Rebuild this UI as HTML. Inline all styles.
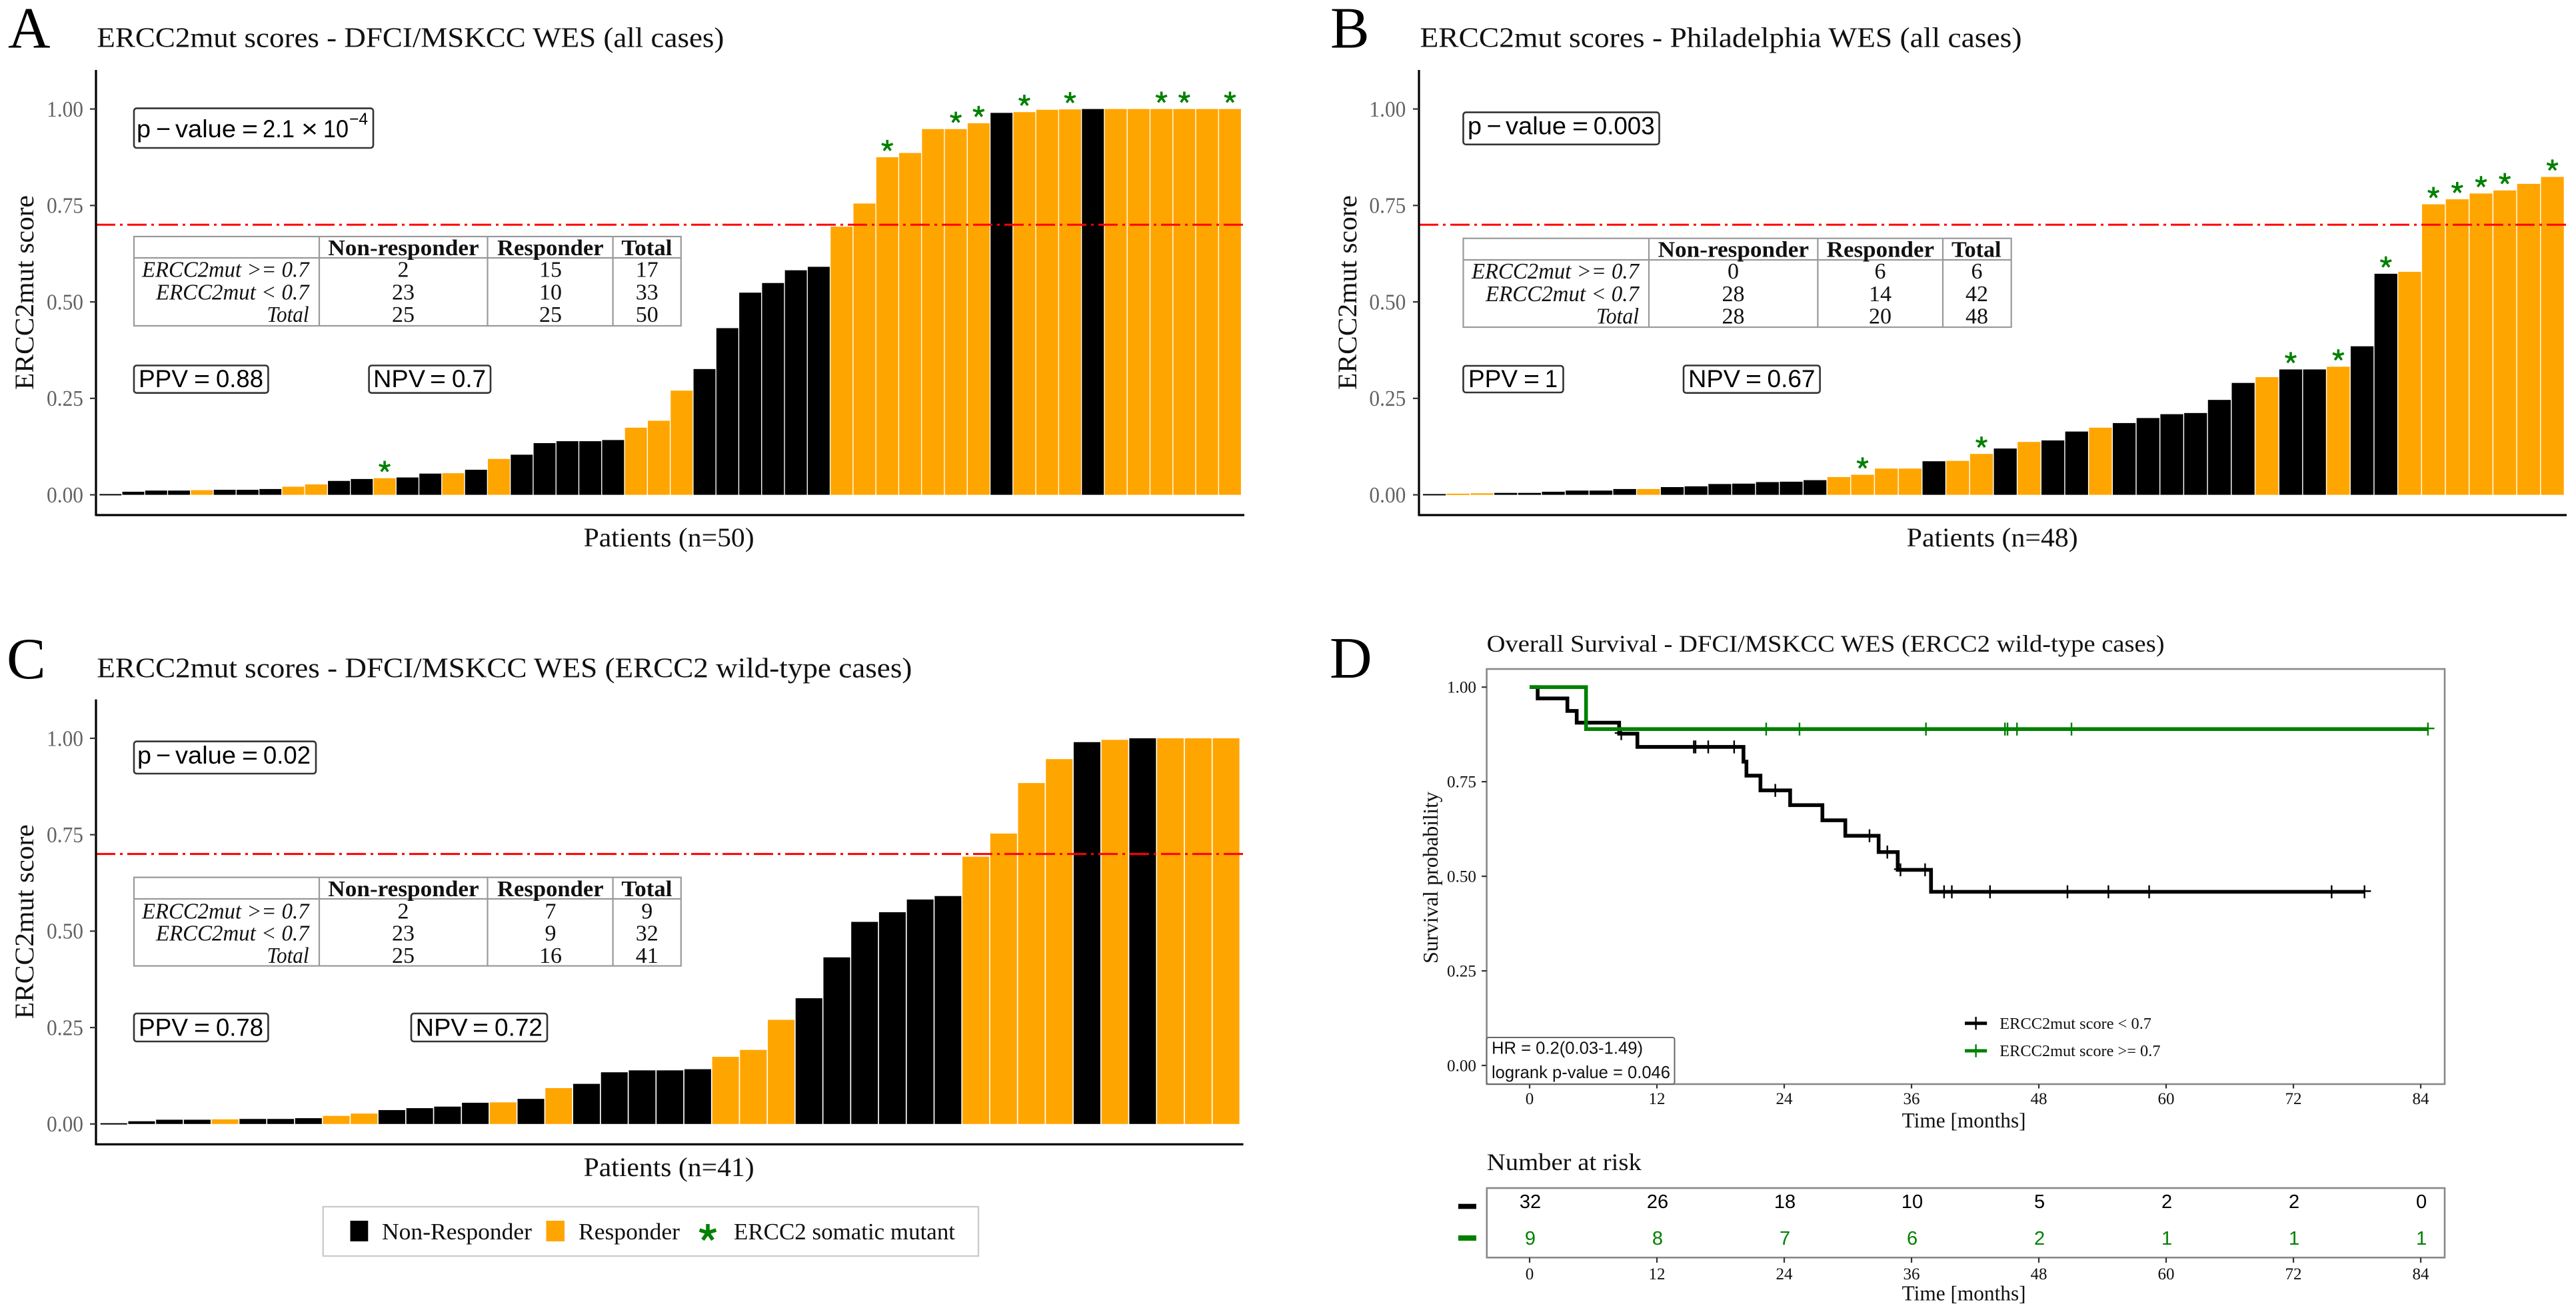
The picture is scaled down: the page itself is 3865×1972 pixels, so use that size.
<!DOCTYPE html>
<html lang="en">
<head>
<meta charset="utf-8">
<title>ERCC2mut score figure</title>
<style>
html,body{margin:0;padding:0;background:#fff;}
svg{display:block;}
text{font-family:"Liberation Serif",serif;fill:#111;}
.letter{font-size:88px;fill:#000;}
.title{font-size:42px;}
.axt{font-size:40px;}
.sans{font-family:"Liberation Sans",sans-serif;font-size:37px;fill:#000;}
.sup{font-family:"Liberation Sans",sans-serif;font-size:25px;fill:#000;}
.box{fill:#fff;stroke:#333;stroke-width:2.6;}
.grid{fill:none;stroke:#999;stroke-width:2.2;}
.hd{font-size:34px;font-weight:bold;text-anchor:start;}
.rl{font-size:34px;font-style:italic;}
.cell{font-size:34px;text-anchor:middle;}
.leg{font-size:35px;}
.dt{font-size:36px;}
.dax{font-size:32px;}
.dleg{font-size:24px;}
.hr{font-family:"Liberation Sans",sans-serif;font-size:26px;fill:#111;}
.frame{fill:none;stroke:#888;stroke-width:2.6;}
</style>
</head>
<body>
<svg id="fig" xmlns="http://www.w3.org/2000/svg" width="3865" height="1972" viewBox="0 0 3865 1972">
<rect width="3865" height="1972" fill="#fff"/>

<text class="letter" x="12" y="71.5">A</text>
<text class="letter" x="1996" y="71.5">B</text>
<text class="letter" x="10" y="1018">C</text>
<text class="letter" x="1995" y="1017">D</text>

<text class="title" x="145.4" y="70.5" textLength="941" lengthAdjust="spacingAndGlyphs">ERCC2mut scores - DFCI/MSKCC WES (all cases)</text>
<text class="title" x="2130.5" y="70.5" textLength="903" lengthAdjust="spacingAndGlyphs">ERCC2mut scores - Philadelphia WES (all cases)</text>
<text class="title" x="145.4" y="1016.4" textLength="1223" lengthAdjust="spacingAndGlyphs">ERCC2mut scores - DFCI/MSKCC WES (ERCC2 wild-type cases)</text>

<text class="axt" transform="translate(50,585) rotate(-90)" textLength="292" lengthAdjust="spacingAndGlyphs">ERCC2mut score</text>
<text class="axt" transform="translate(2034.8,585) rotate(-90)" textLength="292" lengthAdjust="spacingAndGlyphs">ERCC2mut score</text>
<text class="axt" transform="translate(50,1529.3) rotate(-90)" textLength="292" lengthAdjust="spacingAndGlyphs">ERCC2mut score</text>

<text class="axt" x="875.6" y="820" textLength="256" lengthAdjust="spacingAndGlyphs">Patients (n=50)</text>
<text class="axt" x="2860.7" y="820" textLength="257" lengthAdjust="spacingAndGlyphs">Patients (n=48)</text>
<text class="axt" x="875.6" y="1765" textLength="256" lengthAdjust="spacingAndGlyphs">Patients (n=41)</text>

<g id="plot-a"></g>
<g id="plot-b"></g>
<g id="plot-c"></g>

<!-- Panel A annotations -->
<g>
<rect class="box" x="201" y="162.6" width="359" height="59.4" rx="4"/>
<text class="sans" x="205" y="206" textLength="21" lengthAdjust="spacingAndGlyphs">p</text>
<text class="sans" x="234" y="206" textLength="22" lengthAdjust="spacingAndGlyphs">−</text>
<text class="sans" x="263" y="206" textLength="91" lengthAdjust="spacingAndGlyphs">value</text>
<text class="sans" x="363" y="206" textLength="24" lengthAdjust="spacingAndGlyphs">=</text>
<text class="sans" x="394" y="206" textLength="48" lengthAdjust="spacingAndGlyphs">2.1</text>
<text class="sans" x="452" y="206" textLength="25" lengthAdjust="spacingAndGlyphs">×</text>
<text class="sans" x="485" y="206" textLength="38" lengthAdjust="spacingAndGlyphs">10</text>
<text class="sup" x="524" y="187" textLength="28" lengthAdjust="spacingAndGlyphs">−4</text>
</g>
<g>
<rect class="box" x="201" y="548.5" width="201.4" height="41.2" rx="4"/>
<text class="sans" x="208" y="581" textLength="74" lengthAdjust="spacingAndGlyphs">PPV</text>
<text class="sans" x="291" y="581" textLength="24" lengthAdjust="spacingAndGlyphs">=</text>
<text class="sans" x="324" y="581" textLength="71" lengthAdjust="spacingAndGlyphs">0.88</text>
</g>
<g>
<rect class="box" x="553.6" y="548.5" width="182.4" height="41.2" rx="4"/>
<text class="sans" x="560" y="581" textLength="78" lengthAdjust="spacingAndGlyphs">NPV</text>
<text class="sans" x="645" y="581" textLength="24" lengthAdjust="spacingAndGlyphs">=</text>
<text class="sans" x="678" y="581" textLength="51" lengthAdjust="spacingAndGlyphs">0.7</text>
</g>
<g>
<rect class="grid" x="201" y="355" width="820.8" height="134"/>
<path class="grid" d="M201 387H1021.8M479 355V489M731.5 355V489M919.6 355V489"/>
<text class="hd" x="492.3" y="383" textLength="226.4" lengthAdjust="spacingAndGlyphs">Non-responder</text>
<text class="hd" x="746" y="383" textLength="159.6" lengthAdjust="spacingAndGlyphs">Responder</text>
<text class="hd" x="932.4" y="383" textLength="76" lengthAdjust="spacingAndGlyphs">Total</text>
<text class="rl" x="213" y="415.7" textLength="250.6" lengthAdjust="spacingAndGlyphs">ERCC2mut &gt;= 0.7</text>
<text class="rl" x="234" y="449.3" textLength="229.6" lengthAdjust="spacingAndGlyphs">ERCC2mut &lt; 0.7</text>
<text class="rl" x="400.5" y="483" textLength="63" lengthAdjust="spacingAndGlyphs">Total</text>
<g>
<text class="cell" x="605" y="415.7">2</text><text class="cell" x="826" y="415.7">15</text><text class="cell" x="970.7" y="415.7">17</text>
<text class="cell" x="605" y="449.3">23</text><text class="cell" x="826" y="449.3">10</text><text class="cell" x="970.7" y="449.3">33</text>
<text class="cell" x="605" y="483">25</text><text class="cell" x="826" y="483">25</text><text class="cell" x="970.7" y="483">50</text>
</g>
</g>

<!-- Panel B annotations -->
<g>
<rect class="box" x="2195.5" y="168.6" width="294" height="48.2" rx="4"/>
<text class="sans" x="2202" y="201.6" textLength="21" lengthAdjust="spacingAndGlyphs">p</text>
<text class="sans" x="2230.5" y="201.6" textLength="22" lengthAdjust="spacingAndGlyphs">−</text>
<text class="sans" x="2259" y="201.6" textLength="91" lengthAdjust="spacingAndGlyphs">value</text>
<text class="sans" x="2359" y="201.6" textLength="24" lengthAdjust="spacingAndGlyphs">=</text>
<text class="sans" x="2390.7" y="201.6" textLength="92" lengthAdjust="spacingAndGlyphs">0.003</text>
</g>
<g>
<rect class="box" x="2195.5" y="549" width="150" height="40" rx="4"/>
<text class="sans" x="2203" y="581" textLength="74" lengthAdjust="spacingAndGlyphs">PPV</text>
<text class="sans" x="2286" y="581" textLength="24" lengthAdjust="spacingAndGlyphs">=</text>
<text class="sans" x="2318" y="581" textLength="19" lengthAdjust="spacingAndGlyphs">1</text>
</g>
<g>
<rect class="box" x="2526" y="548.5" width="204.6" height="41.2" rx="4"/>
<text class="sans" x="2533" y="581" textLength="78" lengthAdjust="spacingAndGlyphs">NPV</text>
<text class="sans" x="2619" y="581" textLength="24" lengthAdjust="spacingAndGlyphs">=</text>
<text class="sans" x="2651.5" y="581" textLength="72" lengthAdjust="spacingAndGlyphs">0.67</text>
</g>
<g>
<rect class="grid" x="2195.5" y="357.7" width="822.2" height="133.3"/>
<path class="grid" d="M2195.5 390H3017.7M2474 357.7V491M2727.4 357.7V491M2915 357.7V491"/>
<text class="hd" x="2487.6" y="385.4" textLength="226.4" lengthAdjust="spacingAndGlyphs">Non-responder</text>
<text class="hd" x="2740.8" y="385.4" textLength="161.2" lengthAdjust="spacingAndGlyphs">Responder</text>
<text class="hd" x="2928" y="385.4" textLength="74.5" lengthAdjust="spacingAndGlyphs">Total</text>
<text class="rl" x="2208" y="418" textLength="251" lengthAdjust="spacingAndGlyphs">ERCC2mut &gt;= 0.7</text>
<text class="rl" x="2229" y="452" textLength="230" lengthAdjust="spacingAndGlyphs">ERCC2mut &lt; 0.7</text>
<text class="rl" x="2395" y="485.6" textLength="64" lengthAdjust="spacingAndGlyphs">Total</text>
<g>
<text class="cell" x="2600.5" y="418">0</text><text class="cell" x="2821" y="418">6</text><text class="cell" x="2966" y="418">6</text>
<text class="cell" x="2600.5" y="452">28</text><text class="cell" x="2821" y="452">14</text><text class="cell" x="2966" y="452">42</text>
<text class="cell" x="2600.5" y="485.6">28</text><text class="cell" x="2821" y="485.6">20</text><text class="cell" x="2966" y="485.6">48</text>
</g>
</g>

<!-- Panel C annotations -->
<g>
<rect class="box" x="201" y="1112.7" width="273" height="48.3" rx="4"/>
<text class="sans" x="206" y="1146" textLength="21" lengthAdjust="spacingAndGlyphs">p</text>
<text class="sans" x="234" y="1146" textLength="22" lengthAdjust="spacingAndGlyphs">−</text>
<text class="sans" x="263" y="1146" textLength="91" lengthAdjust="spacingAndGlyphs">value</text>
<text class="sans" x="363" y="1146" textLength="24" lengthAdjust="spacingAndGlyphs">=</text>
<text class="sans" x="395" y="1146" textLength="71" lengthAdjust="spacingAndGlyphs">0.02</text>
</g>
<g>
<rect class="box" x="201" y="1521" width="201.4" height="42" rx="4"/>
<text class="sans" x="208" y="1554.6" textLength="74" lengthAdjust="spacingAndGlyphs">PPV</text>
<text class="sans" x="291" y="1554.6" textLength="24" lengthAdjust="spacingAndGlyphs">=</text>
<text class="sans" x="324" y="1554.6" textLength="71" lengthAdjust="spacingAndGlyphs">0.78</text>
</g>
<g>
<rect class="box" x="617" y="1521" width="204" height="42" rx="4"/>
<text class="sans" x="623.7" y="1554.6" textLength="78" lengthAdjust="spacingAndGlyphs">NPV</text>
<text class="sans" x="709" y="1554.6" textLength="24" lengthAdjust="spacingAndGlyphs">=</text>
<text class="sans" x="742" y="1554.6" textLength="72" lengthAdjust="spacingAndGlyphs">0.72</text>
</g>
<g>
<rect class="grid" x="201" y="1316.7" width="820.8" height="132.9"/>
<path class="grid" d="M201 1349H1021.8M479 1316.7V1449.6M731.5 1316.7V1449.6M919.6 1316.7V1449.6"/>
<text class="hd" x="492.3" y="1345" textLength="226.4" lengthAdjust="spacingAndGlyphs">Non-responder</text>
<text class="hd" x="746" y="1345" textLength="159.6" lengthAdjust="spacingAndGlyphs">Responder</text>
<text class="hd" x="932.4" y="1345" textLength="76" lengthAdjust="spacingAndGlyphs">Total</text>
<text class="rl" x="213" y="1378.5" textLength="250.6" lengthAdjust="spacingAndGlyphs">ERCC2mut &gt;= 0.7</text>
<text class="rl" x="234" y="1411.7" textLength="229.6" lengthAdjust="spacingAndGlyphs">ERCC2mut &lt; 0.7</text>
<text class="rl" x="400.5" y="1445" textLength="63" lengthAdjust="spacingAndGlyphs">Total</text>
<g>
<text class="cell" x="605" y="1378.5">2</text><text class="cell" x="826" y="1378.5">7</text><text class="cell" x="970.7" y="1378.5">9</text>
<text class="cell" x="605" y="1411.7">23</text><text class="cell" x="826" y="1411.7">9</text><text class="cell" x="970.7" y="1411.7">32</text>
<text class="cell" x="605" y="1445">25</text><text class="cell" x="826" y="1445">16</text><text class="cell" x="970.7" y="1445">41</text>
</g>
</g>

<!-- Shared legend -->
<g>
<rect x="484.7" y="1811" width="983.3" height="74" fill="#fff" stroke="#ccc" stroke-width="2.4"/>
<rect x="525.5" y="1832" width="26.8" height="31" fill="#000"/>
<text class="leg" x="573" y="1860" textLength="225" lengthAdjust="spacingAndGlyphs">Non-Responder</text>
<rect x="819.5" y="1832" width="27.5" height="31" fill="#FFA500"/>
<text class="leg" x="868" y="1860" textLength="152" lengthAdjust="spacingAndGlyphs">Responder</text>
<path d="M1062 1837V1850M1062 1850L1074.4 1846M1062 1850L1069.6 1860.5M1062 1850L1054.4 1860.5M1062 1850L1049.6 1846" fill="none" stroke="#008000" stroke-width="5.5"/>
<text class="leg" x="1101" y="1860" textLength="332" lengthAdjust="spacingAndGlyphs">ERCC2 somatic mutant</text>
</g>

<!-- Panel D static parts -->
<text class="dt" x="2230.6" y="978" textLength="1017" lengthAdjust="spacingAndGlyphs">Overall Survival - DFCI/MSKCC WES (ERCC2 wild-type cases)</text>
<text class="dax" transform="translate(2157,1446) rotate(-90)" textLength="258" lengthAdjust="spacingAndGlyphs">Survival probability</text>
<text class="dax" x="2853.6" y="1692" textLength="186" lengthAdjust="spacingAndGlyphs">Time [months]</text>
<rect class="frame" x="2230.6" y="1004" width="1437.4" height="623"/>
<g id="km"></g>
<g>
<rect x="2230.6" y="1557" width="281.9" height="70" rx="3" fill="#fff" stroke="#666" stroke-width="2"/>
<text class="hr" x="2238" y="1581.7" textLength="227" lengthAdjust="spacingAndGlyphs">HR = 0.2(0.03-1.49)</text>
<text class="hr" x="2238" y="1618" textLength="268" lengthAdjust="spacingAndGlyphs">logrank p-value = 0.046</text>
</g>
<g>
<path d="M2948 1535.7H2981.2" stroke="#000" stroke-width="5"/>
<path d="M2964.6 1526V1545.4" stroke="#000" stroke-width="2.4"/>
<text class="dleg" x="3000.3" y="1543.9" textLength="227.7" lengthAdjust="spacingAndGlyphs">ERCC2mut score &lt; 0.7</text>
<path d="M2948 1577H2981.2" stroke="#008000" stroke-width="5"/>
<path d="M2964.6 1567.3V1586.7" stroke="#008000" stroke-width="2.4"/>
<text class="dleg" x="3000.3" y="1585" textLength="241.2" lengthAdjust="spacingAndGlyphs">ERCC2mut score &gt;= 0.7</text>
</g>

<text class="dt" x="2230.8" y="1756" textLength="232" lengthAdjust="spacingAndGlyphs">Number at risk</text>
<rect class="frame" x="2230.8" y="1783" width="1437.2" height="104.3"/>
<rect x="2188" y="1806.7" width="27" height="7.6" fill="#000"/>
<rect x="2188" y="1854" width="27" height="8" fill="#008000"/>
<g id="risk"></g>
<text class="dax" x="2853.6" y="1951.7" textLength="186" lengthAdjust="spacingAndGlyphs">Time [months]</text>
</svg>

<script>
// Panel A data
const scoresA = [0.002,0.008,0.011,0.011,0.012,0.013,0.013,0.015,0.021,0.027,0.036,0.041,0.043,0.045,0.055,0.056,0.065,0.093,0.104,0.134,0.139,0.139,0.142,0.174,0.192,0.27,0.326,0.432,0.524,0.549,0.582,0.591,0.695,0.755,0.875,0.886,0.948,0.948,0.963,0.99,0.992,0.998,0.999,1,1,1,1,1,1,1];
const responderA = [0,0,0,0,1,0,0,0,1,1,0,0,1,0,0,1,0,1,0,0,0,0,0,1,1,1,0,0,0,0,0,0,1,1,1,1,1,1,1,0,1,1,1,0,1,1,1,1,1,1];
const mutantA = [0,0,0,0,0,0,0,0,0,0,0,0,1,0,0,0,0,0,0,0,0,0,0,0,0,0,0,0,0,0,0,0,0,0,1,0,0,1,1,0,1,0,1,0,0,0,1,1,0,1];

// Panel B data
const scoresB = [0.002,0.003,0.004,0.005,0.005,0.008,0.011,0.011,0.015,0.015,0.02,0.022,0.028,0.029,0.033,0.034,0.038,0.046,0.052,0.068,0.068,0.087,0.088,0.106,0.12,0.137,0.141,0.164,0.174,0.186,0.199,0.209,0.212,0.246,0.29,0.305,0.325,0.325,0.332,0.385,0.573,0.578,0.753,0.766,0.781,0.789,0.806,0.824];
const responderB = [0,1,1,0,0,0,0,0,0,1,0,0,0,0,0,0,0,1,1,1,1,0,1,1,0,1,0,0,1,0,0,0,0,0,0,1,0,0,1,0,0,1,1,1,1,1,1,1];
const mutantB = [0,0,0,0,0,0,0,0,0,0,0,0,0,0,0,0,0,0,1,0,0,0,0,1,0,0,0,0,0,0,0,0,0,0,0,0,1,0,1,0,1,0,1,1,1,1,0,1];

// Panel C data
const scoresC = [0.002,0.007,0.011,0.011,0.012,0.013,0.013,0.015,0.021,0.027,0.036,0.041,0.045,0.055,0.056,0.065,0.093,0.104,0.134,0.139,0.139,0.142,0.174,0.192,0.27,0.326,0.432,0.524,0.549,0.582,0.591,0.693,0.753,0.884,0.946,0.99,0.996,1,1,1,1];
const responderC = [0,0,0,0,1,0,0,0,1,1,0,0,0,0,1,0,1,0,0,0,0,0,1,1,1,0,0,0,0,0,0,1,1,1,1,0,1,0,1,1,1];
const mutantC = [];

// Shared bar-chart axis data
const yTickValues = [0,0.25,0.5,0.75,1];
const yTickLabels = ['0.00','0.25','0.50','0.75','1.00'];
const scoreCutoff = [0.7];

// Panel D data
const lowTimes = [0,0.76,3.56,4.44,8.44,10.16,20.16,20.44,21.76,24.56,27.6,29.76,32.9,34.7,37.84];
const lowSurvival = [1,0.97,0.937,0.906,0.877,0.842,0.803,0.766,0.727,0.688,0.648,0.607,0.564,0.517,0.459];
const lowCensorTimes = [8.64,15.48,15.64,16.84,19.28,23.16,32.04,33.72,34.96,37.28,39.07,39.8,43.4,50.7,54.56,58.4,75.6,78.7];
const highTimes = [0,5.32];
const highSurvival = [1,0.889];
const highCensorTimes = [22.3,25.44,37.36,44.81,45.05,45.94,51.08,84.68];
const monthTicks = [0,12,24,36,48,60,72,84];
const riskLow = [32,26,18,10,5,2,2,0];
const riskHigh = [9,8,7,6,2,1,1,1];

const NS = 'http://www.w3.org/2000/svg';
function mk(parent, tag, attrs, txt) {
  const el = document.createElementNS(NS, tag);
  for (const k in attrs) el.setAttribute(k, attrs[k]);
  if (txt !== undefined) el.textContent = txt;
  parent.appendChild(el);
  return el;
}

function drawBars(id, p, values, responder, mutant) {
  const g = document.getElementById(id);
  const yPos = v => p.zero - p.unit * v;
  const xPos = i => p.x0 + p.pitch * i;
  values.forEach((v, i) => {
    const top = yPos(v);
    const bar = mk(g, 'rect', {x: xPos(i) + p.pitch * 0.02, y: top, width: p.pitch * 0.96, height: Math.max(p.zero - top, 2), fill: responder[i] ? '#FFA500' : '#000'});
    
    
    if (mutant[i]) {
      const cx = xPos(i) + p.pitch / 2, cy = top - 17.3, r = 8.8;
      let d = '';
      for (let a = 0; a < 5; a++) {
        const t = (-90 + a * 72) * Math.PI / 180;
        d += 'M' + cx + ' ' + cy + 'L' + (cx + r * Math.cos(t)) + ' ' + (cy + r * Math.sin(t));
      }
      const star = mk(g, 'path', {d: d, fill: 'none', stroke: '#008000', 'stroke-width': 3.6});
      
      
    }
  });
  const cut = mk(g, 'path', {d: 'M' + p.axisX + ' ' + yPos(scoreCutoff[0]) + 'H' + p.axisRight, fill: 'none', stroke: '#f00', 'stroke-width': 3, 'stroke-dasharray': '29 7 4 7'});
  
  
  const axisY = mk(g, 'path', {d: 'M' + p.axisX + ' ' + p.axisTop + 'V' + (p.axisBottom + 1.5), fill: 'none', stroke: '#000', 'stroke-width': 3.2});
  
  
  const axisX = mk(g, 'path', {d: 'M' + p.axisX + ' ' + p.axisBottom + 'H' + p.axisRight, fill: 'none', stroke: '#000', 'stroke-width': 3.2});
  
  
  yTickValues.forEach((v, i) => {
    const tick = mk(g, 'path', {d: 'M' + (p.axisX - 9) + ' ' + yPos(v) + 'H' + p.axisX, stroke: '#333', 'stroke-width': 2.2});
    
    
    const lab = mk(g, 'text', {x: p.labelRight - 55, y: yPos(v) + 11.3, textLength: 55, lengthAdjust: 'spacingAndGlyphs', 'font-size': 33.6, style: 'fill:#636363'}, yTickLabels[i]);
    
    
  });
}

drawBars('plot-a', {x0:148.6,pitch:34.28,zero:742.6,unit:579,axisX:144,axisTop:105,axisBottom:773,axisRight:1867,labelRight:125}, scoresA, responderA, mutantA);
drawBars('plot-b', {x0:2134.3,pitch:35.69,zero:742.6,unit:579,axisX:2129,axisTop:105,axisBottom:773,axisRight:3851,labelRight:2109.4}, scoresB, responderB, mutantB);
drawBars('plot-c', {x0:149.9,pitch:41.72,zero:1686.8,unit:578.8,axisX:144,axisTop:1049.6,axisBottom:1717.4,axisRight:1865.5,labelRight:125}, scoresC, responderC, mutantC);

// Survival panel
const kmX = t => 2295 + 15.917 * t;
const kmY = s => 1599 - 567.8 * s;
function drawCurve(parent, name, color, times, surv, censors) {
  const lastT = censors[censors.length - 1];
  let d = 'M' + kmX(times[0]) + ' ' + kmY(surv[0]);
  for (let i = 1; i < times.length; i++) {
    d += 'H' + kmX(times[i]) + 'V' + kmY(surv[i]);
  }
  d += 'H' + kmX(lastT);
  const line = mk(parent, 'path', {d: d, fill: 'none', stroke: color, 'stroke-width': 5.6, 'stroke-linejoin': 'miter'});
  
  
  censors.forEach(t => {
    let s = surv[0];
    for (let i = 0; i < times.length; i++) { if (times[i] <= t) s = surv[i]; }
    const cx = kmX(t), cy = kmY(s);
    const mark = mk(parent, 'path', {d: 'M' + cx + ' ' + (cy - 9.7) + 'V' + (cy + 9.7) + 'M' + (cx - 9.7) + ' ' + (cy - 1) + 'H' + (cx + 9.7), fill: 'none', stroke: color, 'stroke-width': 2.4});
    
    
  });
}
const km = document.getElementById('km');
drawCurve(km, 'score-low', '#000', lowTimes, lowSurvival, lowCensorTimes);
drawCurve(km, 'score-high', '#008000', highTimes, highSurvival, highCensorTimes);
yTickValues.forEach((v, i) => {
  const tick = mk(km, 'path', {d: 'M2223 ' + kmY(v) + 'H2230.6', stroke: '#333', 'stroke-width': 2.2});
  
  
  const lab = mk(km, 'text', {x: 2171, y: kmY(v) + 8.5, textLength: 44, lengthAdjust: 'spacingAndGlyphs', 'font-size': 25}, yTickLabels[i]);
  
  
});
monthTicks.forEach(m => {
  const tick = mk(km, 'path', {d: 'M' + kmX(m) + ' 1627V1633.5', stroke: '#333', 'stroke-width': 2.2});
  
  
  const lab = mk(km, 'text', {x: kmX(m), y: 1657, 'text-anchor': 'middle', 'font-size': 25}, String(m));
  
  
});

// Number at risk
const risk = document.getElementById('risk');
monthTicks.forEach((m, i) => {
  const low = mk(risk, 'text', {x: kmX(m) + 1, y: 1813, 'text-anchor': 'middle', 'font-size': 29, style: 'font-family:"Liberation Sans",sans-serif;fill:#000'}, String(riskLow[i]));
  
  
  const high = mk(risk, 'text', {x: kmX(m) + 1, y: 1868, 'text-anchor': 'middle', 'font-size': 29, style: 'font-family:"Liberation Sans",sans-serif;fill:#008000'}, String(riskHigh[i]));
  
  
  const tick = mk(risk, 'path', {d: 'M' + kmX(m) + ' 1887.3V1895', stroke: '#333', 'stroke-width': 2.2});
  
  
  const lab = mk(risk, 'text', {x: kmX(m), y: 1920, 'text-anchor': 'middle', 'font-size': 25}, String(m));
  
  
});
</script>
</body>
</html>
